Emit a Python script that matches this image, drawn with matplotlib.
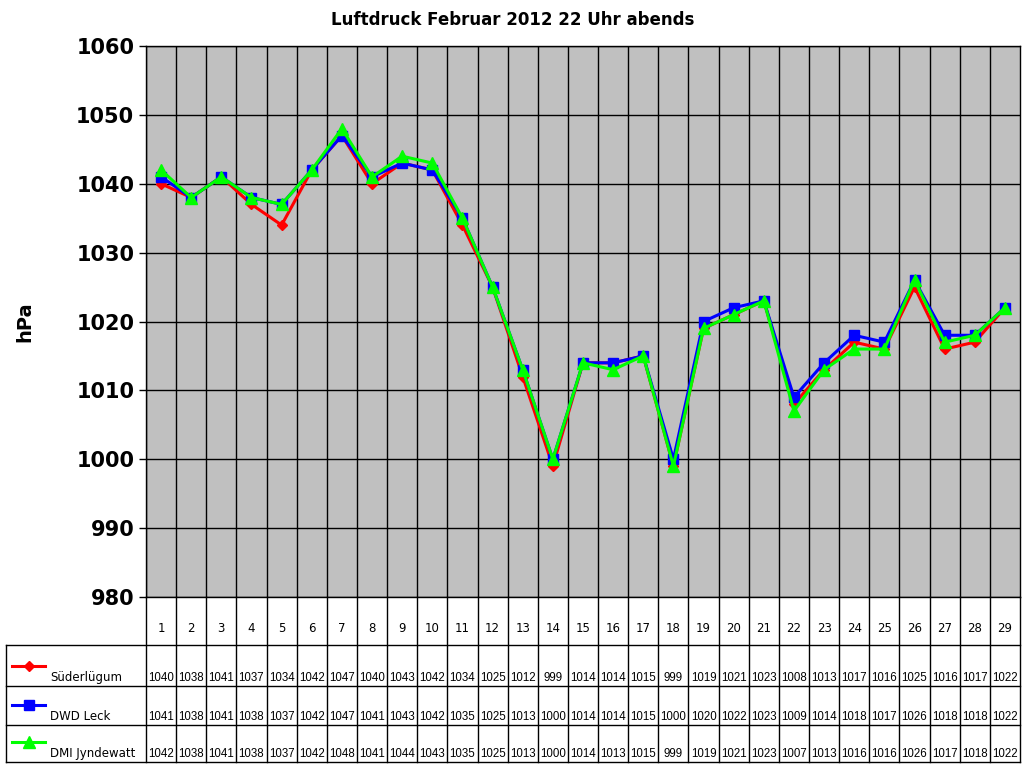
import matplotlib
matplotlib.use("Agg")
import matplotlib.pyplot as plt
import matplotlib.transforms as mtransforms
from matplotlib.lines import Line2D

days = list(range(1, 30))
series_names = ["Süderlügum", "DWD Leck", "DMI Jyndewatt"]
suederluegum = [1040,1038,1041,1037,1034,1042,1047,1040,1043,1042,1034,1025,1012,999,1014,1014,1015,999,1019,1021,1023,1008,1013,1017,1016,1025,1016,1017,1022]
dwd_leck = [1041,1038,1041,1038,1037,1042,1047,1041,1043,1042,1035,1025,1013,1000,1014,1014,1015,1000,1020,1022,1023,1009,1014,1018,1017,1026,1018,1018,1022]
dmi = [1042,1038,1041,1038,1037,1042,1048,1041,1044,1043,1035,1025,1013,1000,1014,1013,1015,999,1019,1021,1023,1007,1013,1016,1016,1026,1017,1018,1022]
yticks = [980, 990, 1000, 1010, 1020, 1030, 1040, 1050, 1060]

colors = ["#ff0000", "#0000ff", "#00ff00"]
markers = ["D", "s", "^"]
msizes = [5.5, 7.5, 8.5]
data = [suederluegum, dwd_leck, dmi]

W, H = 1024, 768
fig = plt.figure(figsize=(10.24, 7.68), dpi=100)
ax = fig.add_axes([146/W, 1-597/H, 874/W, 551/H])
ax.set_facecolor("#c0c0c0")
for d, c, m, s in zip(data, colors, markers, msizes):
    ax.plot(days, d, color=c, lw=2.2, marker=m, ms=s, mec=c, mfc=c, zorder=3)
ax.set_xlim(0.5, 29.5)
ax.set_ylim(980, 1060)
ax.set_yticks(yticks)
ax.set_yticklabels([str(v) for v in yticks], fontsize=15, fontweight="bold")
ax.set_xticks([])
for x in [i + 0.5 for i in range(29)]:
    ax.axvline(x, color="black", lw=1, zorder=1)
for y in yticks:
    ax.axhline(y, color="black", lw=1, zorder=1)
ax.tick_params(axis="y", length=5, width=1)
for sp in ax.spines.values():
    sp.set_linewidth(1)
ax.set_ylabel("hPa", fontsize=14, fontweight="bold", labelpad=30)
fig.text(513/W, 1-20/H, "Luftdruck Februar 2012 22 Uhr abends", ha="center", va="center",
         fontsize=12, fontweight="bold")

def fy(py):
    return 1 - py / H
trans = mtransforms.blended_transform_factory(ax.transData, fig.transFigure)
for x in [i + 0.5 for i in range(30)]:
    fig.add_artist(Line2D([x, x], [fy(597), fy(762)], transform=trans, color="black", lw=1))
rows_y = [645, 686, 725, 762]
for py in rows_y:
    fig.add_artist(Line2D([6/W, 1020/W], [fy(py), fy(py)], transform=fig.transFigure, color="black", lw=1))
fig.add_artist(Line2D([6/W, 6/W], [fy(645), fy(762)], transform=fig.transFigure, color="black", lw=1))
for dday in days:
    fig.text(dday, fy(628), str(dday), transform=trans, ha="center", va="center", fontsize=8.5)
for r, (name, d, c, m, s) in enumerate(zip(series_names, data, colors, markers, msizes)):
    ybase = rows_y[r + 1] - 8
    for dday, v in zip(days, d):
        fig.text(dday, fy(ybase), str(v), transform=trans, ha="center", va="center",
                 fontsize=8.3, fontstretch="condensed", family="Liberation Sans")
    fig.text(50/W, fy(ybase), name, ha="left", va="center", fontsize=8.5)
    ly = fy(ybase - 12)
    fig.add_artist(Line2D([12/W, 45/W], [ly, ly], transform=fig.transFigure, color=c, lw=2.2))
    fig.add_artist(Line2D([28.5/W], [ly], transform=fig.transFigure, color=c, marker=m,
                          ms=s, mec=c, mfc=c))

fig.savefig("out.png", dpi=100, facecolor="white")
